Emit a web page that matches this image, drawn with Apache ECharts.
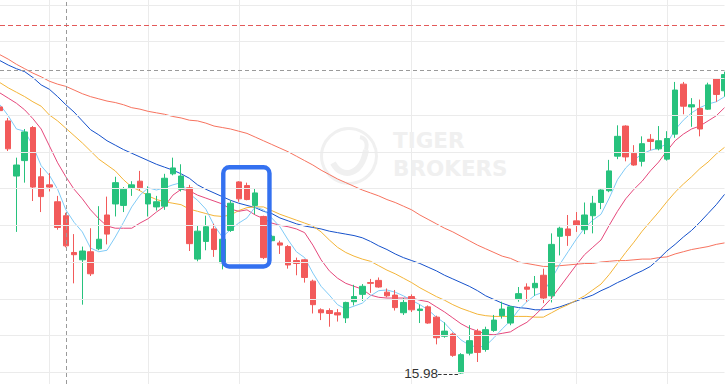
<!DOCTYPE html>
<html><head><meta charset="utf-8">
<script src="https://cdn.jsdelivr.net/npm/echarts@6/dist/echarts.min.js"></script>
<style>html,body{margin:0;padding:0;background:#fff;overflow:hidden}#c{width:725px;height:384px}</style>
</head><body><div id="c"></div>
<script>
// ---- data ----
const categories = Array.from({length: 89}, (_, i) => 'K' + (i + 1));
const opens  = [19.61,19.42,18.67,18.88,19.33,18.66,18.55,18.32,18.13,17.63,17.53,17.64,17.68,18.14,18.29,18.27,18.51,18.60,18.29,18.25,18.26,18.70,18.49,18.51,17.54,17.78,17.95,17.49,17.93,18.59,18.54,18.27,18.12,17.79,17.76,17.71,17.52,17.53,17.24,16.85,16.84,16.81,16.74,16.96,17.06,17.22,17.25,17.09,17.05,16.81,17.03,16.84,16.89,16.75,16.49,16.52,15.99,16.26,16.56,16.31,16.57,16.77,16.67,17.00,17.16,17.15,17.32,17.04,17.85,17.95,18.06,17.94,18.13,18.31,18.47,18.94,19.35,18.98,18.87,19.17,19.04,18.90,19.24,19.92,19.61,19.59,19.58,19.99,19.83];
const closes = [19.56,19.04,18.82,19.27,18.52,18.39,18.52,17.97,17.72,17.60,17.65,17.34,17.81,17.88,18.58,18.49,18.55,18.51,18.43,18.32,18.64,18.78,18.67,17.75,17.92,17.98,17.67,17.81,18.30,18.36,18.35,18.44,17.56,17.85,17.73,17.46,17.48,17.29,16.92,16.81,16.80,16.78,16.95,17.03,17.17,17.21,17.16,17.04,16.88,16.95,16.85,16.86,16.67,16.47,16.56,16.23,16.24,16.43,16.27,16.58,16.71,16.86,16.89,17.07,17.13,17.21,17.01,17.74,17.96,17.86,18.00,18.14,18.30,18.48,18.74,19.21,18.93,18.82,19.11,19.14,19.15,19.18,19.84,19.62,19.64,19.31,19.91,19.78,20.05];
const lows   = [19.54,19.01,17.91,18.58,18.33,18.18,18.46,17.94,17.70,17.21,16.92,17.31,17.66,17.74,18.12,18.18,18.40,18.47,18.12,18.20,18.21,18.68,18.46,17.65,17.51,17.66,17.57,17.40,17.91,18.32,18.34,18.15,17.54,17.78,17.61,17.41,17.32,17.22,16.80,16.71,16.62,16.69,16.67,16.91,16.97,17.08,17.15,17.02,16.84,16.78,16.82,16.67,16.66,16.38,16.47,16.21,15.98,16.23,16.14,16.28,16.55,16.73,16.64,16.96,16.96,17.04,16.94,16.95,17.59,17.72,17.91,17.88,17.89,18.22,18.45,18.90,18.87,18.81,18.80,19.02,19.02,18.88,19.19,19.51,19.34,19.21,19.57,19.68,19.75];
const highs  = [19.62,19.46,18.92,19.31,19.35,18.78,18.71,18.40,18.17,17.88,17.71,17.96,18.26,18.39,18.66,18.52,18.60,18.74,18.53,18.40,18.70,18.92,18.83,18.55,17.99,18.13,18.02,17.87,18.34,18.60,18.58,18.50,18.13,17.87,17.79,17.73,17.56,17.54,17.26,16.87,16.87,16.86,16.96,17.19,17.20,17.27,17.29,17.14,17.12,17.01,17.06,16.92,16.91,16.77,16.68,16.54,16.26,16.64,16.59,16.62,16.78,16.96,16.90,17.16,17.21,17.31,17.41,17.89,17.98,18.14,18.18,18.31,18.40,18.49,18.89,19.36,19.36,19.09,19.21,19.24,19.35,19.28,19.95,19.95,19.73,19.71,19.94,20.00,20.09];
const ma5  = [19.64,19.49,19.31,19.28,19.08,18.81,18.68,18.49,18.21,18.04,17.91,17.69,17.64,17.66,17.84,18.04,18.25,18.41,18.51,18.48,18.51,18.55,18.58,18.43,18.34,18.22,18.00,17.84,17.94,18.03,18.10,18.25,18.21,18.10,17.98,17.80,17.64,17.56,17.35,17.17,17.05,16.92,16.86,16.90,16.94,17.04,17.11,17.12,17.09,17.04,16.98,16.92,16.85,16.75,16.67,16.55,16.44,16.37,16.34,16.36,16.47,16.59,16.70,16.85,16.96,17.05,17.09,17.27,17.47,17.64,17.81,17.96,18.07,18.15,18.37,18.62,18.78,18.89,18.97,19.02,19.05,19.11,19.30,19.43,19.53,19.60,19.65,19.68,19.75];
const ma10 = [19.80,19.73,19.66,19.57,19.45,19.31,19.08,18.85,18.66,18.49,18.36,18.21,18.09,17.99,17.96,17.96,17.96,18.03,18.09,18.18,18.26,18.41,18.49,18.47,18.41,18.37,18.33,18.29,18.22,18.19,18.21,18.14,18.09,18.03,18.00,17.98,17.95,17.90,17.73,17.53,17.38,17.28,17.21,17.17,17.13,17.05,17.02,17.01,17.01,17.01,17.01,16.98,16.96,16.89,16.82,16.74,16.66,16.60,16.56,16.52,16.51,16.53,16.55,16.62,16.68,16.78,16.89,17.01,17.16,17.31,17.46,17.60,17.70,17.80,18.00,18.19,18.36,18.49,18.60,18.74,18.86,19.01,19.15,19.24,19.31,19.35,19.42,19.49,19.60];
const ma20 = [19.94,19.87,19.81,19.75,19.68,19.62,19.50,19.42,19.32,19.22,19.12,19.01,18.90,18.82,18.74,18.62,18.52,18.47,18.40,18.35,18.32,18.30,18.28,18.22,18.19,18.16,18.13,18.12,18.14,18.20,18.24,18.25,18.25,18.20,18.15,18.11,18.07,18.03,17.99,17.91,17.80,17.70,17.63,17.58,17.54,17.51,17.45,17.39,17.34,17.28,17.22,17.15,17.09,17.03,16.98,16.92,16.87,16.83,16.79,16.77,16.76,16.76,16.76,16.76,16.76,16.75,16.75,16.81,16.87,16.92,16.98,17.04,17.12,17.20,17.33,17.48,17.63,17.77,17.92,18.05,18.18,18.32,18.45,18.56,18.66,18.77,18.86,18.97,19.06];
const ma30 = [20.24,20.18,20.13,20.09,20.01,19.91,19.85,19.75,19.64,19.54,19.42,19.30,19.23,19.15,19.09,19.03,18.98,18.93,18.88,18.83,18.79,18.75,18.70,18.64,18.55,18.49,18.44,18.39,18.34,18.30,18.27,18.24,18.19,18.16,18.10,18.06,18.02,17.99,17.97,17.95,17.92,17.90,17.88,17.86,17.83,17.78,17.72,17.67,17.61,17.56,17.52,17.48,17.43,17.38,17.32,17.27,17.22,17.17,17.11,17.04,16.99,16.94,16.90,16.88,16.87,16.85,16.85,16.86,16.89,16.93,16.97,17.01,17.05,17.11,17.16,17.22,17.27,17.33,17.38,17.44,17.54,17.65,17.74,17.84,17.93,18.04,18.16,18.28,18.42];
const ma60 = [20.32,20.26,20.19,20.13,20.07,20.02,19.96,19.92,19.89,19.84,19.79,19.75,19.72,19.69,19.67,19.64,19.60,19.58,19.55,19.53,19.51,19.48,19.46,19.43,19.42,19.39,19.35,19.33,19.31,19.28,19.25,19.20,19.15,19.10,19.05,19.00,18.94,18.88,18.82,18.75,18.69,18.63,18.58,18.53,18.48,18.44,18.40,18.35,18.31,18.26,18.21,18.14,18.08,18.02,17.96,17.91,17.85,17.79,17.73,17.68,17.63,17.58,17.55,17.50,17.48,17.46,17.44,17.44,17.45,17.46,17.47,17.48,17.48,17.50,17.51,17.52,17.52,17.53,17.54,17.54,17.56,17.57,17.61,17.64,17.67,17.69,17.71,17.74,17.76];
const priceTicks = [16.0,16.5,17.0,17.5,18.0,18.5,19.0,19.5,20.0,20.5,21.0]; // horizontal grid lines
const priceMin = 15.8405, priceMax = 21.065;   // visible price window
const monthStarts = [6, 18, 29, 50, 70, 81];     // vertical grid lines (category indices)
const crossIndex = 8;                            // crosshair candle
const crossPrice = 20.11;                        // crosshair price
const alertPrice = 20.72;                        // red dashed price line
const boxFrom = 27, boxTo = 32, boxTop = 18.79, boxBottom = 17.44; // highlight box

const UP = '#27c27d', DOWN = '#f25a5a', GRID = '#ebebeb';
const kData = opens.map((o, i) => [o, closes[i], lows[i], highs[i]]);

const chart = echarts.init(document.getElementById('c'), null, {renderer: 'svg'});
const maLine = (name, data, color) => ({
  name, type: 'line', data, showSymbol: false, symbol: 'none', silent: true, z: 2,
  lineStyle: {color, width: 1}, itemStyle: {color}, animation: false
});
chart.setOption({
  backgroundColor: '#ffffff',
  animation: false,
  grid: {left: 0, right: 0.5, top: 0, bottom: 0, containLabel: false},
  xAxis: {
    type: 'category', data: categories, boundaryGap: false,
    axisLine: {show: false}, axisTick: {show: false}, axisLabel: {show: false},
    splitLine: {show: true, interval: (i) => monthStarts.includes(i), lineStyle: {color: GRID, width: 1}}
  },
  yAxis: {
    type: 'value', min: priceMin, max: priceMax,
    axisLine: {show: false}, axisTick: {show: false}, axisLabel: {show: false},
    splitLine: {show: false}
  },
  series: [
    {
      name: 'grid', type: 'line', data: [], z: 1, silent: true,
      markLine: {
        silent: true, symbol: ['none', 'none'], label: {show: false}, animation: false,
        lineStyle: {color: GRID, type: 'solid', width: 1},
        data: priceTicks.map(v => ({yAxis: v}))
      }
    },
    maLine('MA60', ma60, '#f7735f'),
    maLine('MA30', ma30, '#1652cc'),
    maLine('MA20', ma20, '#f4b538'),
    maLine('MA10', ma10, '#e6487c'),
    maLine('MA5', ma5, '#80cbf7'),
    {
      name: 'K', type: 'candlestick', data: kData, barWidth: 6, z: 3,
      itemStyle: {color: UP, color0: DOWN, borderColor: UP, borderColor0: DOWN, borderWidth: 1},
      markLine: {
        silent: true, symbol: ['none', 'none'], label: {show: false}, animation: false,
        data: [
          {xAxis: categories[crossIndex], lineStyle: {color: '#9a9a9a', type: [4, 3], width: 1}},
          {yAxis: crossPrice, lineStyle: {color: '#9a9a9a', type: [4, 3], width: 1}},
          {yAxis: alertPrice, lineStyle: {color: '#e35a5a', type: [5, 3], width: 1}}
        ]
      }
    }
  ]
});

// ---- overlays anchored through the chart's own scales ----
const px = (i, p) => chart.convertToPixel({gridIndex: 0}, [i, p]);
const band = px(1, 18)[0] - px(0, 18)[0];
const bx1 = px(boxFrom, boxTop)[0] + 0.12 * band;
const bx2 = px(boxTo, boxTop)[0] + 0.73 * band;
const by1 = px(boxFrom, boxTop)[1];
const by2 = px(boxFrom, boxBottom)[1];
let minIdx = 0;
lows.forEach((v, i) => { if (v < lows[minIdx]) minIdx = i; });
const lowPt = px(minIdx, lows[minIdx]);
const lowY = Math.round(lowPt[1]) + 0.5;
const WM = '#f0f0f0';

chart.setOption({
  graphic: [
    // watermark
    {type: 'group', z: 0, silent: true, children: [
      {type: 'circle', shape: {cx: 349, cy: 156, r: 27.5}, style: {fill: 'none', stroke: WM, lineWidth: 3}},
      {type: 'bezierCurve', shape: {x1: 333, y1: 163, cpx1: 342, cpy1: 180, cpx2: 362, cpy2: 175, x2: 366, y2: 150}, style: {fill: 'none', stroke: WM, lineWidth: 6}},
      {type: 'bezierCurve', shape: {x1: 366, y1: 150, cpx1: 368, cpy1: 142, cpx2: 365, cpy2: 138, x2: 360, y2: 137}, style: {fill: 'none', stroke: WM, lineWidth: 4}},
      {type: 'text', style: {text: 'TIGER', x: 393, y: 140, font: 'bold 21.5px "DejaVu Sans"', fill: WM, verticalAlign: 'middle'}},
      {type: 'text', style: {text: 'BROKERS', x: 393, y: 168, font: 'bold 21.5px "DejaVu Sans"', fill: WM, verticalAlign: 'middle'}}
    ]},
    // highlight box
    {type: 'rect', z: 100, silent: true,
      shape: {x: bx1, y: by1, width: bx2 - bx1, height: by2 - by1, r: 6},
      style: {fill: 'none', stroke: '#3471f0', lineWidth: 4.4}},
    // lowest-price marker
    {type: 'line', z: 100, silent: true,
      shape: {x1: lowPt[0] - 23, y1: lowY, x2: lowPt[0] - 1, y2: lowY},
      style: {stroke: '#333', lineWidth: 1, lineDash: [3.5, 2]}},
    {type: 'text', z: 100, silent: true,
      style: {text: lows[minIdx].toFixed(2), x: lowPt[0] - 23, y: lowPt[1], align: 'right', verticalAlign: 'middle',
              font: '13.5px "Liberation Sans", Arial, sans-serif', fill: '#333'}}
  ]
});
</script>
</body></html>
